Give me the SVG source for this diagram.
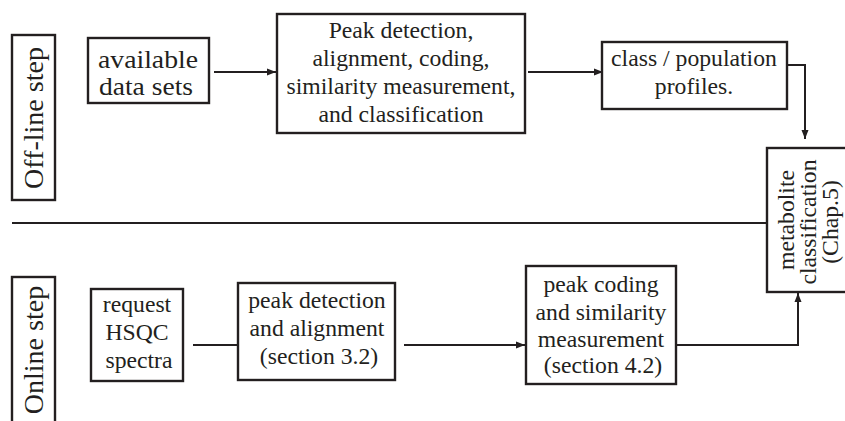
<svg xmlns="http://www.w3.org/2000/svg" width="845" height="421" viewBox="0 0 845 421">
<style>
.box{fill:#fff;stroke:#231f20;stroke-width:2.4}
.ln{fill:none;stroke:#231f20;stroke-width:2}
.tx{font-family:'Liberation Serif','DejaVu Serif',serif;fill:#231f20;text-anchor:middle}
.t{font-size:23.7px}
.b{font-size:26px}
.s{font-size:28px}
</style>
<defs>
<marker id="ah" markerUnits="userSpaceOnUse" markerWidth="10" markerHeight="8" refX="9" refY="4" orient="auto">
<path d="M0,0.5 L9,4 L0,7.5 Z" fill="#231f20"/>
</marker>
</defs>
<rect width="845" height="421" fill="#fff"/>
<g id="connectors">
<path class="ln" d="M12 223 H767"/>
<path class="ln" d="M214 72 H276" marker-end="url(#ah)"/>
<path class="ln" d="M528 72 H603" marker-end="url(#ah)"/>
<path class="ln" d="M787 65 H805 V139" marker-end="url(#ah)"/>
<path class="ln" d="M193 345 H246" marker-end="url(#ah)"/>
<path class="ln" d="M404 345 H525" marker-end="url(#ah)"/>
<path class="ln" d="M676 345 H798 V293" marker-end="url(#ah)"/>
</g>
<g id="offline-step">
<rect class="box" x="12" y="35" width="43" height="165"/>
<text class="tx s" transform="translate(43,118) rotate(-90)">Off-line step</text>
</g>
<g id="online-step">
<rect class="box" x="12" y="277" width="43" height="160"/>
<text class="tx s" transform="translate(43,350) rotate(-90)">Online step</text>
</g>
<g id="available">
<rect class="box" x="88" y="38" width="121" height="65"/>
<text class="tx b" x="148" y="68" textLength="100" lengthAdjust="spacingAndGlyphs">available</text>
<text class="tx b" x="146" y="95" textLength="94" lengthAdjust="spacingAndGlyphs">data sets</text>
</g>
<g id="peak-offline">
<rect class="box" x="277" y="14" width="248" height="119"/>
<text class="tx t" x="401" y="38">Peak detection,</text>
<text class="tx t" x="401" y="66">alignment, coding,</text>
<text class="tx t" x="401" y="94">similarity measurement,</text>
<text class="tx t" x="401" y="122">and classification</text>
</g>
<g id="profiles">
<rect class="box" x="602" y="42" width="185" height="67"/>
<text class="tx t" x="694" y="66">class / population</text>
<text class="tx t" x="694" y="94">profiles.</text>
</g>
<g id="metabolite">
<rect class="box" x="767" y="148" width="90" height="144"/>
<text class="tx t" transform="translate(794,220) rotate(-90)">metabolite</text>
<text class="tx t" transform="translate(816,222) rotate(-90)">classification</text>
<text class="tx t" transform="translate(838,222) rotate(-90)">(Chap.5)</text>
</g>
<g id="request">
<rect class="box" x="91" y="289" width="92" height="92"/>
<text class="tx t" x="137" y="312">request</text>
<text class="tx t" x="137" y="340">HSQC</text>
<text class="tx t" x="139" y="368">spectra</text>
</g>
<g id="peak-detect">
<rect class="box" x="238" y="283" width="157" height="97"/>
<text class="tx t" x="317" y="308">peak detection</text>
<text class="tx t" x="317" y="336">and alignment</text>
<text class="tx t" x="319" y="364">(section 3.2)</text>
</g>
<g id="peak-coding">
<rect class="box" x="526" y="266" width="150" height="118"/>
<text class="tx t" x="601" y="292">peak coding</text>
<text class="tx t" x="601" y="320">and similarity</text>
<text class="tx t" x="601" y="347">measurement</text>
<text class="tx t" x="603" y="373">(section 4.2)</text>
</g>
</svg>
